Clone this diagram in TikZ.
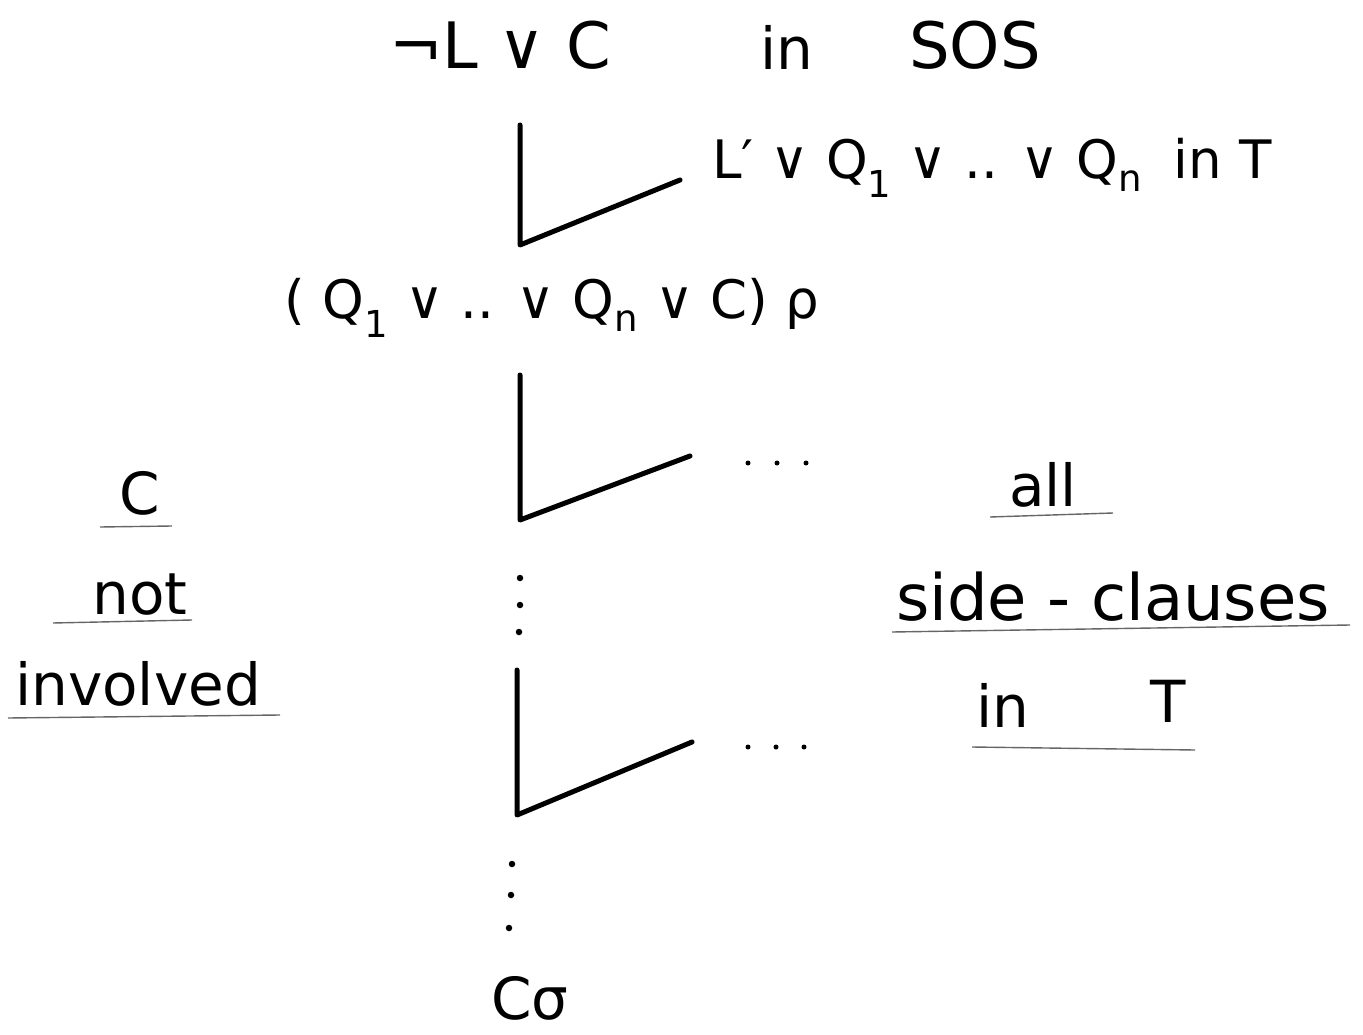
\documentclass[tikz,border=0pt]{standalone}
\usepackage{fontspec}
\setmainfont{DejaVu Sans}
\begin{document}
\begin{tikzpicture}[x=1pt,y=-1pt,
  txt/.style={inner sep=0pt,font=\fontsize{58}{70}\selectfont},
  mid/.style={inner sep=0pt,font=\fontsize{53}{64}\selectfont},
  big/.style={inner sep=0pt,font=\fontsize{64}{76}\selectfont},
  stroke/.style={line width=5pt,line cap=round,line join=round},
  uline/.style={line width=1.4pt,draw=black!60},
  vdot/.style={circle,fill=black,inner sep=0pt,minimum size=6.5pt}]
\useasboundingbox (0,0) rectangle (1363,1035);
% top clause
\node[big] (top) at (500,45) {¬L ∨ C};
\node[txt] (in1) at (787,47) {in};
\node[big] (sos) at (975,45) {SOS};
% first resolution step
\coordinate (t1) at (520,125);
\coordinate (c1) at (520,245);
\coordinate (e1) at (680,180);
\draw[stroke] (t1) -- (c1) -- (e1);
\node[mid,anchor=west] (side1) at (712,168) {L′ ∨ Q\textsubscript{1} ∨ .. ∨ Q\textsubscript{n}\hspace{0.6em}in T};
% resolvent
\node[mid] (res) at (552,308) {( Q\textsubscript{1} ∨ .. ∨ Q\textsubscript{n} ∨ C) ρ};
% second step
\coordinate (t2) at (520,375);
\coordinate (c2) at (520,520);
\coordinate (e2) at (690,456);
\draw[stroke] (t2) -- (c2) -- (e2);
\node[vdot,minimum size=5pt] (d21) at (748,463) {};
\node[vdot,minimum size=5pt] (d22) at (777,463) {};
\node[vdot,minimum size=5pt] (d23) at (806,463) {};
% vertical dots
\node[vdot] (v1) at (520,578) {};
\node[vdot] (v2) at (520,605) {};
\node[vdot] (v3) at (519,632) {};
% third step
\coordinate (t3) at (517,670);
\coordinate (c3) at (517,815);
\coordinate (e3) at (692,742);
\draw[stroke] (t3) -- (c3) -- (e3);
\node[vdot,minimum size=5pt] (d31) at (748,747) {};
\node[vdot,minimum size=5pt] (d32) at (776,747) {};
\node[vdot,minimum size=5pt] (d33) at (804,747) {};
% vertical dots
\node[vdot] (w1) at (512,864) {};
\node[vdot] (w2) at (511,895) {};
\node[vdot] (w3) at (509,928) {};
% final
\node[txt] (fin) at (530,998) {Cσ};
% left annotation
\node[txt] (lc) at (140,493) {C};
\draw[uline] (100,527) -- (172,526);
\node[txt] (lnot) at (140,595) {not};
\draw[uline] (53,623) -- (192,620);
\node[txt] (linv) at (138,684) {involved};
\draw[uline] (8,718) -- (280,715);
% right annotation
\node[txt] (rall) at (1043,485) {all};
\draw[uline] (990,517) -- (1113,513);
\node[big] (rside) at (1113,597) {side - clauses};
\draw[uline] (892,632) -- (1350,625);
\node[txt] (rin) at (1003,705) {in};
\node[txt] (rt) at (1168,701) {T};
\draw[uline] (972,747) -- (1195,750);
\end{tikzpicture}
\end{document}
